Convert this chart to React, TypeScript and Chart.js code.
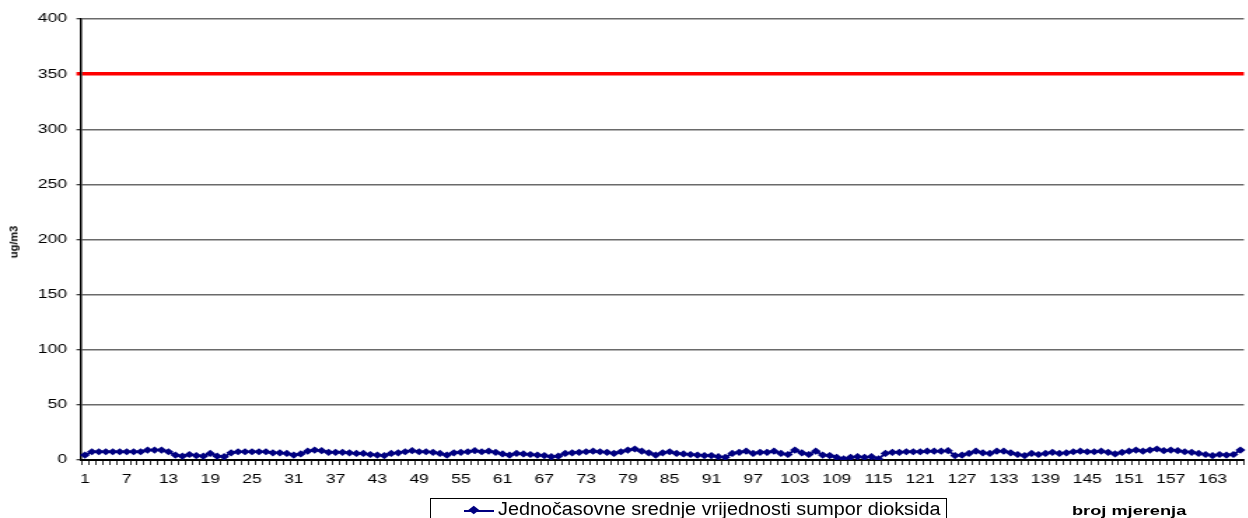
import React, { useEffect, useRef } from "react";
import { Chart, registerables } from "chart.js";

Chart.register(...registerables);

// ---- data ----
const categories: string[] = Array.from({ length: 167 }, (_, i) => String(i + 1));

const so2Values: number[] = [
  4.5, 7.5, 7.5, 7.5, 7.5, 7.5, 7.5, 7.5, 7.5, 9,
  9, 9, 7.5, 4.5, 3.5, 5, 4, 3.5, 6, 3.5,
  3, 6.5, 7.5, 7.5, 7.5, 7.5, 7.5, 6.5, 6.5, 6,
  4.5, 5.5, 8, 9, 8.5, 7, 7, 7, 6.5, 6,
  6, 5, 4.5, 4, 6, 6.5, 7.5, 8.5, 7.5, 7.5,
  7, 6, 4.5, 6.5, 7, 7.5, 8.5, 7.5, 8, 7,
  5.5, 4.5, 6, 5.5, 5, 4.5, 4, 3, 3.5, 6,
  6.5, 7, 7.5, 8, 7.5, 7, 6, 7.5, 9, 10,
  8, 6.5, 4.5, 6.5, 7.5, 6, 5.5, 5, 4.5, 4,
  4, 3, 2.5, 6, 7, 8, 6, 7, 7, 8,
  6, 5, 9, 6.5, 5, 8, 4.5, 4, 2.5, 1,
  2.5, 3, 2.5, 3, 1, 6, 7, 7, 7.5, 7.5,
  7.5, 8, 8, 8, 8.5, 4, 4.5, 6, 8, 6.5,
  6, 8, 8, 6.5, 5, 4, 6, 5, 6, 7,
  6, 6.5, 7.5, 8, 7.5, 7.5, 8, 7, 5.5, 7,
  8, 9, 8, 9, 10, 8.5, 9, 8.5, 7.5, 7,
  6, 5, 4, 5, 4.5, 5, 9,
];

const LIMIT_VALUE = 350;
const Y_MIN = 0;
const Y_MAX = 400;
const Y_STEP = 50;
const X_LABEL_EVERY = 6;

const SERIES_NAME = "Jednočasovne srednje vrijednosti sumpor dioksida";
const Y_TITLE = "ug/m3";
const X_TITLE = "broj mjerenja";

// ---- layout ----
const SX = 1.4; // horizontal stretch of the original picture
const FONT = "'Liberation Sans', Arial, sans-serif";

export default function App() {
  const ref = useRef<HTMLCanvasElement | null>(null);

  useEffect(() => {
    if (!ref.current) return;
    const chart = new Chart(ref.current, {
      type: "line",
      data: {
        labels: categories,
        datasets: [
          {
            label: SERIES_NAME,
            data: so2Values,
            borderColor: "#000080",
            backgroundColor: "#000080",
            borderWidth: 2,
            pointStyle: "rectRot",
            pointRadius: 3.6,
            pointBorderWidth: 0,
            pointBackgroundColor: "#000080",
            tension: 0,
          },
        ],
      },
      options: {
        animation: false,
        responsive: true,
        maintainAspectRatio: false,
        layout: { padding: { top: 19, left: 0, right: 0, bottom: 0 } },
        plugins: {
          legend: { display: false },
          tooltip: { enabled: false },
        },
        scales: {
          x: {
            type: "category",
            offset: true,
            grid: {
              offset: true,
              drawOnChartArea: false,
              tickLength: 5,
              color: "#000",
              lineWidth: 0.8,
            },
            border: { color: "#000", width: 2 },
            ticks: {
              autoSkip: false,
              maxRotation: 0,
              minRotation: 0,
              padding: 7,
              color: "#000",
              font: { family: FONT, size: 12.5 },
              callback: (_v: any, i: number) =>
                i % X_LABEL_EVERY === 0 ? categories[i] : "",
            },
            afterFit: (s: any) => {
              s.height = 58;
            },
          },
          y: {
            min: Y_MIN,
            max: Y_MAX,
            ticks: {
              stepSize: Y_STEP,
              padding: 6.7,
              color: "#000",
              font: { family: FONT, size: 12.5 },
            },
            grid: {
              color: (ctx: any) => (ctx.tick && ctx.tick.value === LIMIT_VALUE ? "#ff0000" : "#6a6a6a"),
              lineWidth: (ctx: any) => (ctx.tick && ctx.tick.value === LIMIT_VALUE ? 3.5 : 1.5),
              tickColor: (ctx: any) => (ctx.tick && ctx.tick.value === LIMIT_VALUE ? "#ff0000" : "#000"),
              tickWidth: (ctx: any) => (ctx.tick && ctx.tick.value === LIMIT_VALUE ? 3.5 : 1),
              tickLength: 3.6,
            },
            border: { color: "#000", width: 1.5 },
            afterFit: (s: any) => {
              s.width = 58.2;
            },
          },
        },
      },
    });
    return () => chart.destroy();
  }, []);

  return (
    <div
      style={{
        position: "fixed",
        left: 0,
        top: 0,
        width: 1248,
        height: 518,
        overflow: "hidden",
        background: "#fff",
      }}
    >
      <div
        style={{
          position: "absolute",
          left: 0,
          top: 0,
          width: 893,
          height: 518,
          transform: `scaleX(${SX})`,
          transformOrigin: "0 0",
        }}
      >
        <canvas ref={ref} />
      </div>

      {/* y axis title */}
      <div
        style={{
          position: "absolute",
          left: 14,
          top: 242,
          transform: "translate(-50%, -50%) rotate(-90deg)",
          fontFamily: FONT,
          fontWeight: "bold",
          fontSize: 11,
          lineHeight: "11px",
          whiteSpace: "nowrap",
          color: "#000",
        }}
      >
        {Y_TITLE}
      </div>

      {/* x axis title */}
      <div
        style={{
          position: "absolute",
          left: 1072,
          top: 504,
          fontFamily: FONT,
          fontWeight: "bold",
          fontSize: 13,
          lineHeight: "13px",
          whiteSpace: "nowrap",
          color: "#000",
          transform: `scaleX(${SX})`,
          transformOrigin: "0 0",
        }}
      >
        {X_TITLE}
      </div>

      {/* legend */}
      <div
        style={{
          position: "absolute",
          left: 430,
          top: 498,
          width: 517,
          height: 40,
          border: "1px solid #000",
          background: "#fff",
          boxSizing: "border-box",
        }}
      >
        <div
          style={{
            position: "absolute",
            left: 33,
            top: 11,
            width: 30,
            height: 1.5,
            background: "#000080",
          }}
        />
        <div
          style={{
            position: "absolute",
            left: 39.5,
            top: 8.3,
            width: 5.5,
            height: 5.5,
            background: "#000080",
            transform: "scaleX(1.3) rotate(45deg)",
          }}
        />
        <div
          style={{
            position: "absolute",
            left: 67,
            top: 1,
            fontFamily: FONT,
            fontSize: 18,
            lineHeight: "18px",
            whiteSpace: "nowrap",
            color: "#000",
            transform: "scaleX(1.1)",
            transformOrigin: "0 0",
          }}
        >
          {SERIES_NAME}
        </div>
      </div>
    </div>
  );
}
